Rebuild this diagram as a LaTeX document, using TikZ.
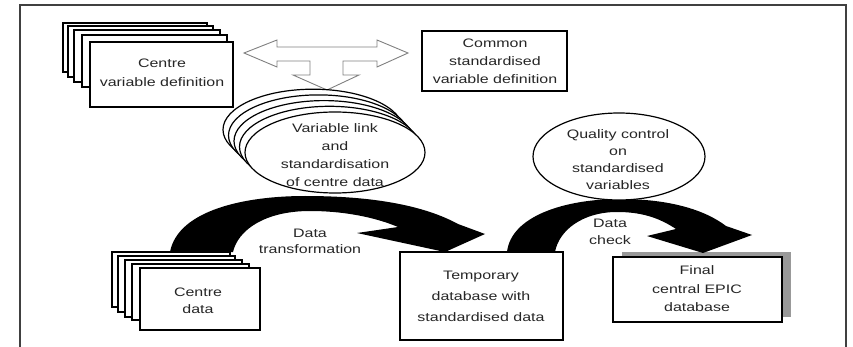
\documentclass[tikz,border=0pt]{standalone}
\usepackage{fontspec}
\setmainfont[FakeStretch=1.3]{Liberation Sans}
\usetikzlibrary{shapes.geometric}
\begin{document}
\begin{tikzpicture}[x=1pt,y=-1pt,
  card/.style={draw=black, fill=white, line width=1.2pt, inner sep=0pt},
  lbl/.style={align=center, inner sep=0pt, font=\fontsize{12.3}{18.5}\selectfont, text=black!85},
  oval/.style={ellipse, draw=black, fill=white, line width=1.2pt, inner sep=0pt, minimum width=180pt, minimum height=81pt},
  band/.style={fill=black},
  hollow/.style={draw=black!50, fill=white, line width=0.9pt, line join=miter}]
\useasboundingbox (0,0) rectangle (853,347);
% frame
\draw[line width=1.3pt, black!75] (20,347) -- (20,5) -- (846,5) -- (846,347);

% centre variable definition stack
\draw[card] (63,23) rectangle (207,72);
\draw[card] (68,26) rectangle (213,77);
\draw[card] (74,30) rectangle (220,82);
\draw[card] (82,35) rectangle (227,87);
\node[card, minimum width=143pt, minimum height=65pt] (cvd) at (161.5,74.5) {};
\node[lbl, font=\fontsize{12.3}{19}\selectfont] (cvdt) at (162,73) {Centre\\variable definition};

% common standardised box
\node[card, minimum width=145pt, minimum height=60pt] (csv) at (494.5,61) {};
\node[lbl, font=\fontsize{12.3}{18}\selectfont] (csvt) at (495,61.5) {Common\\standardised\\variable definition};

% hollow T arrow
\draw[hollow] (244,53) -- (277,40) -- (277,47) -- (377,47) -- (377,40) -- (408,53)
  -- (377,67) -- (377,61) -- (343,61) -- (343,75) -- (359,75) -- (327,90)
  -- (293,75) -- (310,75) -- (310,61) -- (277,61) -- (277,67) -- cycle;

% centre data stack
\draw[card] (112,252) rectangle (230,307);
\draw[card] (118,256) rectangle (235,312);
\draw[card] (125,260) rectangle (242,317);
\draw[card] (132,264) rectangle (249,320);
\node[card, minimum width=120pt, minimum height=62pt] (cd) at (200,299) {};
\node[lbl, font=\fontsize{12.3}{17}\selectfont] (cdt) at (198,301) {Centre\\data};

% temporary database box
\node[card, minimum width=163pt, minimum height=88pt] (tmp) at (481.5,296) {};
\node[lbl, font=\fontsize{12.3}{21}\selectfont] (tmpt) at (481,296.5) {Temporary\\database with\\standardised data};

% final database box with shadow
\fill[black!40] (622,252) rectangle (791,317);
\node[card, minimum width=169pt, minimum height=65pt] (fin) at (697.5,289.5) {};
\node[lbl, font=\fontsize{12.3}{18.5}\selectfont] (fint) at (697,289) {Final\\central EPIC\\database};

% black curved arrows
\fill[band] (170,252) .. controls (178,210) and (245,196) .. (305,196)
  .. controls (375,196) and (425,206) .. (458,224) -- (485,234) -- (445,252) -- (357,233) -- (398,227)
  .. controls (372,216) and (340,211) .. (310,211)
  .. controls (265,211) and (238,230) .. (233,252) -- cycle;
\fill[band] (507,252) .. controls (511,216) and (565,199) .. (620,199)
  .. controls (670,199) and (705,210) .. (726,226) -- (752,235) -- (703,253) -- (647,236) -- (676,229)
  .. controls (658,217) and (640,212) .. (617,212)
  .. controls (583,212) and (559,230) .. (555,252) -- cycle;
\node[lbl, font=\fontsize{12.3}{16}\selectfont] (dtr) at (310,241) {Data\\transformation};
\node[lbl, font=\fontsize{12.3}{17}\selectfont] (dch) at (610,231.5) {Data\\check};

% ellipse stack
\node[oval] (v4) at (313,129.7) {};
\node[oval] (v3) at (318.5,135.4) {};
\node[oval] (v2) at (324,141.1) {};
\node[oval] (v1) at (329.5,146.8) {};
\node[oval] (v0) at (335,152.5) {};
\node[lbl, font=\fontsize{12.3}{18}\selectfont] (vt) at (335,155) {Variable link\\and\\standardisation\\of centre data};

% quality control ellipse
\node[oval, minimum width=172pt, minimum height=87pt] (qc) at (619,156.5) {};
\node[lbl, font=\fontsize{12.3}{17}\selectfont] (qct) at (618,160) {Quality control\\on\\standardised\\variables};
\end{tikzpicture}
\end{document}
